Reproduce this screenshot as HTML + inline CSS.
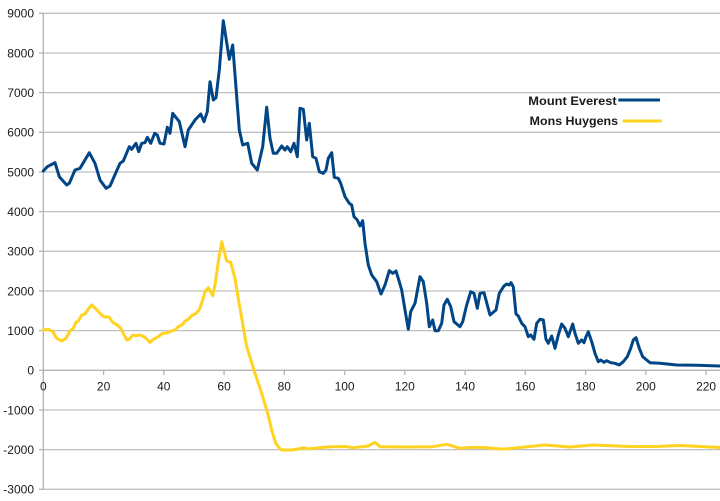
<!DOCTYPE html>
<html>
<head>
<meta charset="utf-8">
<style>
html,body{margin:0;padding:0;background:#ffffff;}
svg{display:block;}
text{font-family:"Liberation Sans",sans-serif;}
</style>
</head>
<body>
<svg width="720" height="501" viewBox="0 0 720 501" xmlns="http://www.w3.org/2000/svg">
<rect width="720" height="501" fill="#ffffff"/>
<!-- gridlines -->
<g stroke="#c0c0c0" stroke-width="1.3" fill="none">
<line x1="43" y1="13.3" x2="720" y2="13.3"/>
<line x1="43" y1="53.0" x2="720" y2="53.0"/>
<line x1="43" y1="92.6" x2="720" y2="92.6"/>
<line x1="43" y1="132.3" x2="720" y2="132.3"/>
<line x1="43" y1="172.0" x2="720" y2="172.0"/>
<line x1="43" y1="211.6" x2="720" y2="211.6"/>
<line x1="43" y1="251.3" x2="720" y2="251.3"/>
<line x1="43" y1="291.0" x2="720" y2="291.0"/>
<line x1="43" y1="330.6" x2="720" y2="330.6"/>
<line x1="43" y1="410.0" x2="720" y2="410.0"/>
<line x1="43" y1="449.6" x2="720" y2="449.6"/>
<line x1="43" y1="489.3" x2="720" y2="489.3"/>
</g>
<!-- axes -->
<g stroke="#b3b3b3" stroke-width="1.3" fill="none">
<line x1="43.3" y1="13.3" x2="43.3" y2="489.3"/>
<line x1="39" y1="370.3" x2="720" y2="370.3"/>
<line x1="39" y1="13.3" x2="43" y2="13.3"/>
<line x1="39" y1="53.0" x2="43" y2="53.0"/>
<line x1="39" y1="92.6" x2="43" y2="92.6"/>
<line x1="39" y1="132.3" x2="43" y2="132.3"/>
<line x1="39" y1="172.0" x2="43" y2="172.0"/>
<line x1="39" y1="211.6" x2="43" y2="211.6"/>
<line x1="39" y1="251.3" x2="43" y2="251.3"/>
<line x1="39" y1="291.0" x2="43" y2="291.0"/>
<line x1="39" y1="330.6" x2="43" y2="330.6"/>
<line x1="39" y1="410.0" x2="43" y2="410.0"/>
<line x1="39" y1="449.6" x2="43" y2="449.6"/>
<line x1="39" y1="489.3" x2="43" y2="489.3"/>
<line x1="43.3" y1="370" x2="43.3" y2="375"/>
<line x1="103.6" y1="370" x2="103.6" y2="375"/>
<line x1="163.8" y1="370" x2="163.8" y2="375"/>
<line x1="224.1" y1="370" x2="224.1" y2="375"/>
<line x1="284.3" y1="370" x2="284.3" y2="375"/>
<line x1="344.6" y1="370" x2="344.6" y2="375"/>
<line x1="404.8" y1="370" x2="404.8" y2="375"/>
<line x1="465.1" y1="370" x2="465.1" y2="375"/>
<line x1="525.3" y1="370" x2="525.3" y2="375"/>
<line x1="585.6" y1="370" x2="585.6" y2="375"/>
<line x1="645.8" y1="370" x2="645.8" y2="375"/>
<line x1="706.1" y1="370" x2="706.1" y2="375"/>
</g>
<!-- y labels -->
<g font-size="12" fill="#1a1a1a" text-anchor="end">
<text x="34" y="17.6">9000</text>
<text x="34" y="57.3">8000</text>
<text x="34" y="96.9">7000</text>
<text x="34" y="136.6">6000</text>
<text x="34" y="176.3">5000</text>
<text x="34" y="215.9">4000</text>
<text x="34" y="255.6">3000</text>
<text x="34" y="295.3">2000</text>
<text x="34" y="334.9">1000</text>
<text x="34" y="374.6">0</text>
<text x="34" y="414.3">-1000</text>
<text x="34" y="453.9">-2000</text>
<text x="34" y="493.6">-3000</text>
</g>
<!-- x labels -->
<g font-size="12" fill="#1a1a1a" text-anchor="middle">
<text x="43.3" y="390.5">0</text>
<text x="103.6" y="390.5">20</text>
<text x="163.8" y="390.5">40</text>
<text x="224.1" y="390.5">60</text>
<text x="284.3" y="390.5">80</text>
<text x="344.6" y="390.5">100</text>
<text x="404.8" y="390.5">120</text>
<text x="465.1" y="390.5">140</text>
<text x="525.3" y="390.5">160</text>
<text x="585.6" y="390.5">180</text>
<text x="645.8" y="390.5">200</text>
<text x="706.1" y="390.5">220</text>
</g>
<!-- Mons Huygens -->
<polyline fill="none" stroke="#ffd320" stroke-width="3" stroke-linejoin="round" stroke-linecap="round" points="
43.3,330 48.3,329.3 52.7,331.7 56.7,338.3 61.7,341 66,338.3 70,331 73.3,328.3 76,322.3 78.3,321 81.7,315 85,314 88.3,309 91.7,305 96,309 100,313.3 104,316.7 109.3,317.3 112.7,322.3 117.3,325 120.7,328.3 123.3,333.3 126.7,340 129.3,339.3 132.7,335 136,335.7 140,335 144,336.7 146.7,339 150,342.3 154,339 158.3,336.7 161.7,333.7 166.7,333 171.7,331 175,330 178.3,326.7 182.7,324.3 185,321 188.3,319.3 191.7,315.7 196,313.3 199.3,310 202.7,300 205,291.7 208.3,287.7 212.7,295.7 215,285 218.3,261.7 221.7,241.7 226.7,261 230.7,262.3 235,278.3 237.7,295 241.7,318 246.7,346.7 255,373.3 261.7,393.3 267.7,413.3 271.7,430 275.7,443.3 281,450 291.7,450 298.3,449 303.3,447.7 308.3,449 318.3,447.7 331.7,446.7 345,446.5 353,447.7 368,446 375,442.3 380,446.7 406.7,447 433,446.7 446.7,444.3 460,448.3 473.3,447.3 486.7,447.7 500,449 505,449 520,447.5 545,445 570,447 593,445 630,446.5 655,446.5 680,445.5 720,447.5"/>
<!-- Mount Everest -->
<polyline fill="none" stroke="#004586" stroke-width="3" stroke-linejoin="round" stroke-linecap="round" points="
43.3,171 47.3,166.7 55,162.7 59.3,176.7 66.7,185 69.3,183.3 75,170 80,168.3 89.3,152.7 95,163.3 100,180 106,188.3 110,186 120,163.3 123.3,161 129.3,146.7 131.7,149.3 136,143.3 138.7,151.7 141.7,143.3 145,142.7 147.3,137.3 150.7,143.3 154.7,133.3 157.3,135 160,143.3 164,144 167.3,127.3 170,133.3 172.7,113.3 179.3,121.7 185,146.7 188.3,130 195,120 200.7,114 204,121.7 207.3,111.7 210,81.7 213.3,100 216,97.7 219.3,70 223.3,20.7 229.3,59.3 232.7,45 239.3,130 242.7,145 247.7,143.3 251.7,163.3 257.3,170 262.7,146.7 266.7,107.3 270,138.3 273.3,153.3 276.7,153.3 281.7,146 285,150 287.3,146.7 290.7,151.7 294,143.3 297.3,156.7 300,108.3 303.3,109.3 306.7,140 309.3,123.3 312.7,156.7 316,158.3 319.3,171.7 323.3,173.3 326,170 328.3,158.3 331.7,152.7 334.3,177.3 338.3,178.3 340.7,183.3 345,196.7 349.3,203.3 351.7,205 354,216.7 357.3,220 360,226 362.7,220.7 365,243.3 368.3,265 371.7,275 376.7,281.7 381,294 385,285 389.3,270.7 392.7,273.3 396,271 399.3,281.7 401.7,290 405,310 408.3,329.3 410.7,311.7 415,303.3 420,276.7 423.3,281.7 426.7,303.3 429.3,326.7 432.7,320 435,330.7 438.3,330.7 441.7,323.3 444,305 447.3,299.3 450.7,306.7 454,321.7 460,326.7 462.7,321.7 466.7,305 470.7,291.7 474,293.3 477.3,308.3 480,293.3 484,292.7 490,315 496,310 499.3,293.3 504,286 506.7,284 509.3,285 511,282.7 513.3,286.7 516,314 518.3,316 521.7,323.3 525,326.7 528.3,336.7 530.7,335 534,339.3 536.7,323.3 540,319.3 543.3,320 546,339.3 548.3,343.3 551.7,336 555,348.3 558.3,335 561.7,324 565,328.3 568.3,336.7 572.7,324 575,333.3 578.3,343.3 581.7,340 584,342.7 586,336.7 588.3,331.7 591.7,341.7 595,353.3 598.3,361.7 600.7,360 604,362.3 606.7,360.7 610.7,362.7 615,363.3 619.3,365 623.3,361.7 627.3,356.7 630.7,348.3 633.3,340 636,337.7 639.3,348.3 642.7,356.7 646.7,360 650,362.7 660,363.3 676.7,365 696.7,365.3 720,366"/>
<!-- legend -->
<g font-size="11.5" font-weight="bold" fill="#1a1a1a">
<text x="528.3" y="105" textLength="88.4" lengthAdjust="spacingAndGlyphs">Mount Everest</text>
<text x="529.7" y="125" textLength="88.3" lengthAdjust="spacingAndGlyphs">Mons Huygens</text>
</g>
<line x1="618.3" y1="100" x2="660" y2="100" stroke="#004586" stroke-width="3"/>
<line x1="622.7" y1="121" x2="661.7" y2="121" stroke="#ffd320" stroke-width="3"/>
</svg>
</body>
</html>
